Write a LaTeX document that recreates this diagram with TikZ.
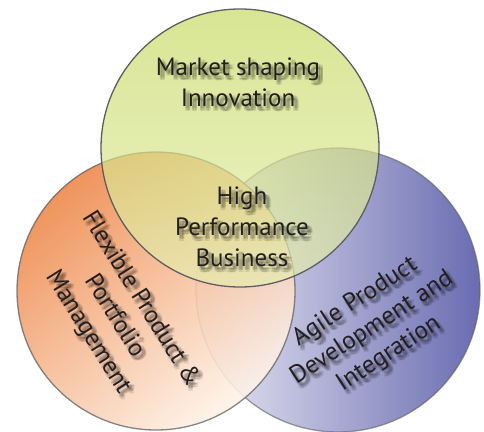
\documentclass[tikz,border=0pt]{standalone}
\usepackage{fontspec}
\setmainfont{PT Sans}
\definecolor{greenTop}{HTML}{C6DA60}
\definecolor{greenBot}{HTML}{E6EEB0}
\definecolor{orangeA}{HTML}{EE8646}
\definecolor{orangeB}{HTML}{FFF4EA}
\definecolor{blueA}{HTML}{5558A6}
\definecolor{blueB}{HTML}{E8E7F4}
\definecolor{ringcol}{HTML}{5E5E62}
\definecolor{inkcol}{HTML}{231F20}
\tikzset{
  ring/.style={draw=ringcol, line width=1.3pt},
  lbl/.style={align=center, text=inkcol, inner sep=0pt,
    font=\fontsize{25}{31}\selectfont},
}
% label with a soft drop shadow: #1,#2 position, #3 rotation, #4 name, #5 text
\newcommand\shadowlabel[5]{%
  \foreach \dx in {2,3.5,5}{\foreach \dy in {2.5,4,5.5}{%
    \node[lbl, rotate=#3, text=black, text opacity=0.08]
      at (#1+\dx, #2+\dy) {#5};}}
  \node[lbl, rotate=#3] (#4) at (#1,#2) {#5};
}
\begin{document}
\begin{tikzpicture}[x=1pt,y=-1pt]
  \useasboundingbox (0,0) rectangle (484,431);
  \fill[white] (0,0) rectangle (484,431);
  % the three circles
  \coordinate (cl) at (156,291);
  \coordinate (cr) at (338,290);
  \coordinate (ct) at (240,148);
  \shade[fill opacity=0.88, left color=blueB, right color=blueA]
    (cr) circle[radius=142pt];
  \draw[ring, draw opacity=0.6] (cr) circle[radius=142pt];
  \shade[fill opacity=0.88, top color=orangeA, bottom color=orangeB, shading angle=40]
    (cl) circle[radius=139pt];
  \draw[ring, draw opacity=0.75] (cl) circle[radius=139pt];
  \shade[fill opacity=0.68, top color=greenTop, bottom color=greenBot]
    (ct) circle[radius=139pt];
  \draw[ring] (ct) circle[radius=139pt];
  % labels
  \shadowlabel{238}{82}{0}{innov}{Market shaping\\Innovation}
  \shadowlabel{242}{227}{0}{hpb}{High\\Performance\\Business}
  \shadowlabel{114}{316}{-58}{flex}{Flexible Product \&\\Portfolio\\Management}
  \shadowlabel{372}{328}{33}{agile}{Agile Product\\Development and\\Integration}
\end{tikzpicture}
\end{document}
